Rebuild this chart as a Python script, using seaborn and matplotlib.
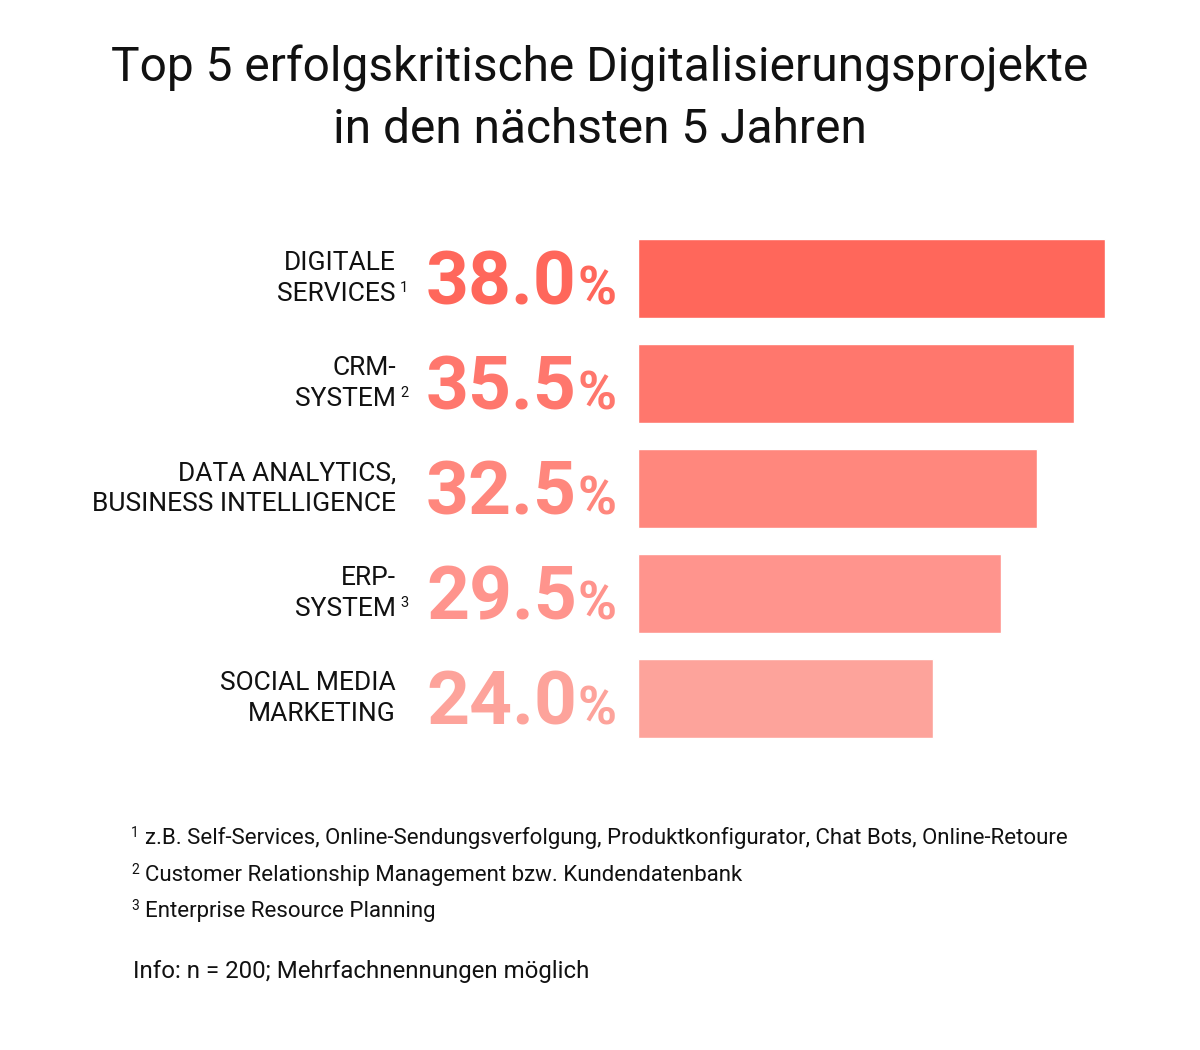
import matplotlib.pyplot as plt
import matplotlib.transforms as mtransforms
import pandas as pd
import seaborn as sns

# data
projects = ["DIGITALE\nSERVICES", "CRM-\nSYSTEM", "DATA ANALYTICS,\nBUSINESS INTELLIGENCE",
            "ERP-\nSYSTEM", "SOCIAL MEDIA\nMARKETING"]
shares = [38.0, 35.5, 32.5, 29.5, 24.0]
marks = ["1", "2", "", "3", ""]
bar_colors = ["#ff675b", "#ff776d", "#ff877d", "#ff948d", "#fda39b"]

title = "Top 5 erfolgskritische Digitalisierungsprojekte\nin den nächsten 5 Jahren"
footnotes = ["z.B. Self-Services, Online-Sendungsverfolgung, Produktkonfigurator, Chat Bots, Online-Retoure",
             "Customer Relationship Management bzw. Kundendatenbank",
             "Enterprise Resource Planning"]
info = "Info: n = 200; Mehrfachnennungen möglich"

df = pd.DataFrame({"project": projects, "share": shares})

sns.set_theme(style="white")
plt.rcParams["font.family"] = ["Roboto", "DejaVu Sans"]

W, H = 1200, 1050
fig = plt.figure(figsize=(12, 10.5), dpi=100)
ax = fig.add_axes([638 / W, 1 - 751 / H, 512 / W, 525 / H])

sns.barplot(data=df, x="share", y="project", hue="project", palette=bar_colors,
            legend=False, width=0.752, saturation=1, ax=ax)
ax.set_xlim(0, 512 / 12.29)
ax.set_ylim(4.5, -0.5)
ax.set_axis_off()

tr = mtransforms.blended_transform_factory(fig.transFigure, ax.transData)
for i, (name, val, mk, col) in enumerate(zip(projects, shares, marks, bar_colors)):
    fig.text(396 / W, i, name, transform=tr, ha="right", va="center", ma="right",
             fontsize=19, color="#111111", linespacing=1.36)
    if mk:
        fig.text(400 / W, i + 0.13, mk, transform=tr, ha="left", va="baseline",
                 fontsize=10.5, color="#111111")
    fig.text(577 / W, i + 0.252, f"{val:.1f}", transform=tr, ha="right", va="baseline",
             fontsize=54, fontweight="bold", color=col)
    fig.text(578 / W, i + 0.252, "%", transform=tr, ha="left", va="baseline",
             fontsize=38, fontweight="bold", color=col)

fig.text(600 / W, 1 - 99 / H, title, ha="center", va="center", fontsize=34.5,
         color="#111111", linespacing=1.4)

for k, note in enumerate(footnotes):
    y = 1 - (844 + 36.5 * k) / H
    fig.text(131 / W, y + 7 / H, str(k + 1), ha="left", va="baseline", fontsize=10, color="#111111")
    fig.text(145 / W, y, note, ha="left", va="baseline", fontsize=16, color="#111111")
fig.text(133 / W, 1 - 978 / H, info, ha="left", va="baseline", fontsize=17.3, color="#111111")

fig.savefig("out.png", dpi=100, facecolor="white")
